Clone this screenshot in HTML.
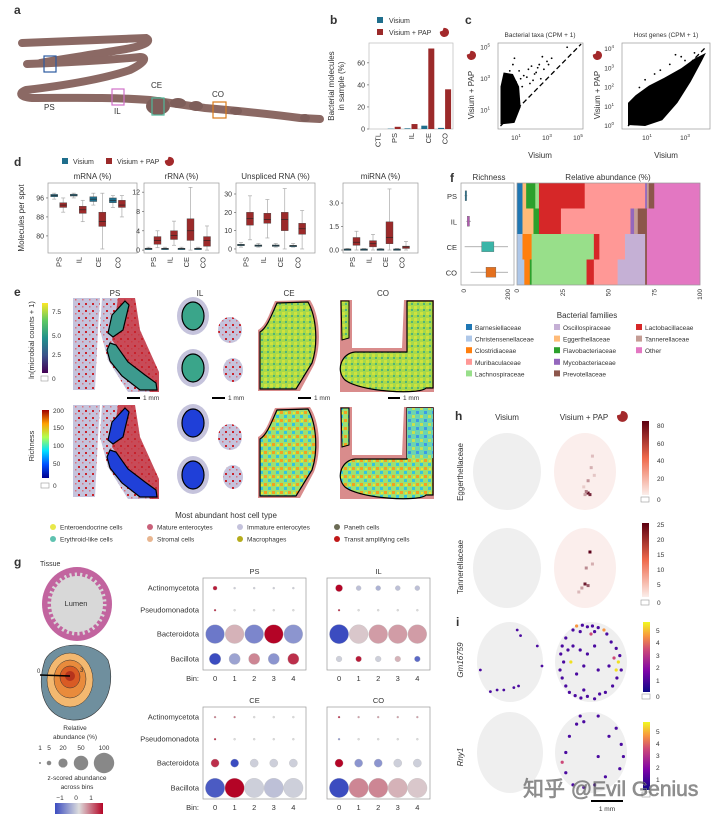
<!DOCTYPE html>
<html><head><meta charset="utf-8"><style>
html,body{margin:0;padding:0;background:#fff}
svg{display:block;font-family:"Liberation Sans","Noto Sans CJK SC",sans-serif}
text{fill:#333}
</style></head><body>
<svg id="fig" width="720" height="821" viewBox="0 0 720 821" xmlns="http://www.w3.org/2000/svg">
<defs>
<pattern id="spk" width="7" height="7" patternUnits="userSpaceOnUse"><rect x="1" y="2" width="2" height="2" fill="#c8232c"/><rect x="5" y="5" width="1.5" height="1.5" fill="#d9707e"/></pattern>
<pattern id="vir" width="6" height="6" patternUnits="userSpaceOnUse"><rect width="6" height="6" fill="#5cbf7a"/><rect x="0" y="0" width="3" height="3" fill="#8fd14f"/><rect x="3" y="3" width="2" height="2" fill="#2c9c8a"/></pattern>
<pattern id="vir2" width="6" height="6" patternUnits="userSpaceOnUse"><rect width="6" height="6" fill="#a8d94a"/><rect x="0" y="0" width="3" height="3" fill="#d0e23c"/><rect x="3" y="3" width="2" height="2" fill="#4fb47a"/></pattern>
<pattern id="jet" width="8" height="8" patternUnits="userSpaceOnUse"><rect width="8" height="8" fill="#9ee070"/><rect x="0" y="0" width="3" height="3" fill="#f4a020"/><rect x="4" y="4" width="3" height="3" fill="#33c4e0"/><rect x="5" y="1" width="2" height="2" fill="#e8e830"/></pattern>
<pattern id="jet2" width="8" height="8" patternUnits="userSpaceOnUse"><rect width="8" height="8" fill="#6cd4b0"/><rect x="0" y="0" width="3" height="3" fill="#3a9ae8"/><rect x="4" y="4" width="3" height="3" fill="#c8e050"/></pattern>
<linearGradient id="cbv" x1="0" y1="1" x2="0" y2="0"><stop offset="0" stop-color="#440154"/><stop offset=".25" stop-color="#3b528b"/><stop offset=".5" stop-color="#21918c"/><stop offset=".75" stop-color="#5ec962"/><stop offset="1" stop-color="#fde725"/></linearGradient>
<linearGradient id="cbj" x1="0" y1="1" x2="0" y2="0"><stop offset="0" stop-color="#00008f"/><stop offset=".2" stop-color="#0050ff"/><stop offset=".4" stop-color="#00e0ff"/><stop offset=".6" stop-color="#b0ff50"/><stop offset=".8" stop-color="#ffa000"/><stop offset="1" stop-color="#a00000"/></linearGradient>
<linearGradient id="cbr" x1="0" y1="1" x2="0" y2="0"><stop offset="0" stop-color="#fbeeea"/><stop offset=".5" stop-color="#ef6a4c"/><stop offset="1" stop-color="#5c0010"/></linearGradient>
<linearGradient id="cbp" x1="0" y1="1" x2="0" y2="0"><stop offset="0" stop-color="#0d0887"/><stop offset=".3" stop-color="#7e03a8"/><stop offset=".6" stop-color="#cc4778"/><stop offset=".8" stop-color="#f89540"/><stop offset="1" stop-color="#f0f921"/></linearGradient>
<linearGradient id="cbc" x1="0" y1="0" x2="1" y2="0"><stop offset="0" stop-color="#3b4cc0"/><stop offset=".5" stop-color="#dddddd"/><stop offset="1" stop-color="#b40426"/></linearGradient>
<symbol id="pap" viewBox="-6 -6 12 12"><path d="M-1,-5 A5,5 0 1 1 -5,-1 L-2,-2 Z" fill="#a3292b"/></symbol>
</defs>

<g>
<text x="14" y="14" font-weight="bold" font-size="12" fill="#000">a</text>
<g fill="none" stroke="#8b6964" stroke-width="8" stroke-linecap="round">
<path d="M22,43 C80,41 120,39 146,38 C152,41 146,46 120,50 C90,55 55,60 40,63"/>
<path d="M27,64 C60,63 110,60 140,57 C147,57 146,62 130,70 C100,80 60,86 26,90 C18,93 20,97 32,98 C70,98 110,97 150,100 L205,108 C240,111 270,114 300,118 L320,119"/>
</g>
<g fill="#7e5e5a">
<ellipse cx="158" cy="106" rx="12" ry="9"/><ellipse cx="178" cy="103" rx="8" ry="5"/><ellipse cx="196" cy="106" rx="7" ry="5"/><ellipse cx="236" cy="111" rx="6" ry="4"/><ellipse cx="305" cy="118" rx="5" ry="4"/>
</g>
<rect x="44" y="56" width="12" height="16" fill="none" stroke="#2c5aa0" stroke-width="1.2"/>
<rect x="112" y="89" width="12" height="16" fill="none" stroke="#d070c8" stroke-width="1.2"/>
<rect x="152" y="98" width="12" height="17" fill="none" stroke="#4fb89a" stroke-width="1.2"/>
<rect x="213" y="102" width="13" height="16" fill="none" stroke="#d97b1c" stroke-width="1.2"/>
<g font-size="8"><text x="44" y="110" fill="#5b6aa8">PS</text><text x="114" y="114" fill="#c75cc0">IL</text><text x="151" y="88" fill="#4fb89a">CE</text><text x="212" y="97" fill="#d9a43c">CO</text></g>
</g>

<g id="pb">
<text x="330" y="24" font-weight="bold" font-size="12" fill="#000">b</text>
<rect x="377" y="17" width="6" height="6" fill="#1f6e8c"/><text x="389" y="23" font-size="7">Visium</text>
<rect x="377" y="29" width="6" height="6" fill="#9b2a2a"/><text x="389" y="35" font-size="7" fill="#9b4a5a">Visium + PAP</text>
<use href="#pap" x="439" y="27" width="11" height="11"/>
<text transform="translate(334,86) rotate(-90)" text-anchor="middle" font-size="8">Bacterial molecules</text>
<text transform="translate(344,86) rotate(-90)" text-anchor="middle" font-size="8">in sample (%)</text>
</g>

<g id="pc">
<text x="465" y="24" font-weight="bold" font-size="12" fill="#000">c</text>
<text x="540" y="37" text-anchor="middle" font-size="6.5">Bacterial taxa (CPM + 1)</text>
<text x="666" y="37" text-anchor="middle" font-size="6.5">Host genes (CPM + 1)</text>
<text x="540" y="158" text-anchor="middle" font-size="8">Visium</text>
<text x="666" y="158" text-anchor="middle" font-size="8">Visium</text>
<text transform="translate(474,95) rotate(-90)" text-anchor="middle" font-size="8" fill="#9b4a5a">Visium + PAP</text>
<text transform="translate(600,95) rotate(-90)" text-anchor="middle" font-size="8" fill="#9b4a5a">Visium + PAP</text>
<use href="#pap" x="466" y="50" width="11" height="11"/>
<use href="#pap" x="592" y="50" width="11" height="11"/>
</g>

<g id="pd">
<text x="14" y="166" font-weight="bold" font-size="12" fill="#000">d</text>
<rect x="62" y="158" width="6" height="6" fill="#1f6e8c"/><text x="73" y="164" font-size="7">Visium</text>
<rect x="106" y="158" width="6" height="6" fill="#9b2a2a"/><text x="117" y="164" font-size="7" fill="#9b4a5a">Visium + PAP</text>
<use href="#pap" x="164" y="156" width="11" height="11"/>
<text transform="translate(24,218) rotate(-90)" text-anchor="middle" font-size="8">Molecules per spot</text>
</g>

<g id="pf">
<text x="450" y="182" font-weight="bold" font-size="12" fill="#000">f</text>
<text x="489" y="180" text-anchor="middle" font-size="8">Richness</text>
<text x="608" y="180" text-anchor="middle" font-size="8">Relative abundance (%)</text>
<text x="587" y="318" text-anchor="middle" font-size="8">Bacterial families</text>
</g>

<g id="pe">
<text x="14" y="296" font-weight="bold" font-size="12" fill="#000">e</text>
<g font-size="8" text-anchor="middle"><text x="115" y="296">PS</text><text x="200" y="296">IL</text><text x="289" y="296">CE</text><text x="383" y="296">CO</text></g>
<rect x="42" y="303" width="6" height="70" fill="url(#cbv)"/>
<rect x="41" y="376" width="7" height="5" fill="#fff" stroke="#999" stroke-width=".6"/>
<g font-size="6.5"><text x="52" y="314">7.5</text><text x="52" y="338">5.0</text><text x="52" y="357">2.5</text><text x="52" y="381">0</text></g>
<text transform="translate(34,340) rotate(-90)" text-anchor="middle" font-size="7.5">ln(microbial counts + 1)</text>
<rect x="42" y="410" width="7" height="68" fill="url(#cbj)"/>
<rect x="41" y="483" width="8" height="5" fill="#fff" stroke="#999" stroke-width=".6"/>
<g font-size="6.5"><text x="53" y="413">200</text><text x="53" y="430">150</text><text x="53" y="448">100</text><text x="53" y="466">50</text><text x="53" y="488">0</text></g>
<text transform="translate(34,446) rotate(-90)" text-anchor="middle" font-size="7.5">Richness</text>
<g id="erow1"></g>
<g id="erow2" transform="translate(0,107)"></g>
<g fill="#000"><rect x="127" y="397" width="13" height="2"/><rect x="212" y="397" width="13" height="2"/><rect x="298" y="397" width="13" height="2"/><rect x="388" y="397" width="12" height="2"/></g>
<g font-size="6.5"><text x="143" y="400">1 mm</text><text x="228" y="400">1 mm</text><text x="314" y="400">1 mm</text><text x="403" y="400">1 mm</text></g>
<text x="226" y="518" text-anchor="middle" font-size="8">Most abundant host cell type</text>
<g id="celllegend" font-size="6.5"></g>
</g>

<g id="pg">
<text x="14" y="566" font-weight="bold" font-size="12" fill="#000">g</text>
<text x="40" y="566" font-size="7">Tissue</text>
<ellipse cx="77" cy="604" rx="35" ry="37" fill="#c2649f"/>
<ellipse cx="77" cy="604" rx="26" ry="28" fill="#d8d8d8" stroke="#d8d8d8" stroke-width="7" stroke-dasharray="2 3"/>
<text x="76" y="606" text-anchor="middle" font-size="7.5">Lumen</text>
<path d="M45,660 C55,640 95,640 108,660 C118,690 100,722 72,720 C45,718 35,690 45,660 Z" fill="#6f8f9e" stroke="#333" stroke-width=".6"/>
<ellipse cx="70" cy="680" rx="23" ry="27" fill="#f3b870" stroke="#333" stroke-width=".5"/>
<ellipse cx="70" cy="679" rx="16" ry="19" fill="#e98b3c" stroke="#333" stroke-width=".5"/>
<ellipse cx="70" cy="677" rx="10" ry="11" fill="#d95b24" stroke="#333" stroke-width=".5"/>
<ellipse cx="70" cy="676" rx="5" ry="5" fill="#b5331c"/>
<line x1="40" y1="675" x2="70" y2="676" stroke="#000" stroke-width="1.5"/>
<text x="37" y="673" font-size="6">0</text><text x="80" y="672" font-size="6">3</text>
<text x="75" y="730" text-anchor="middle" font-size="6.5">Relative</text>
<text x="75" y="739" text-anchor="middle" font-size="6.5">abundance (%)</text>
<g id="sizelegend" font-size="6.5"></g>
<text x="77" y="780" text-anchor="middle" font-size="6.5">z-scored abundance</text>
<text x="77" y="789" text-anchor="middle" font-size="6.5">across bins</text>
<g font-size="6.5" text-anchor="middle"><text x="60" y="800">−1</text><text x="76" y="800">0</text><text x="91" y="800">1</text></g>
<rect x="55" y="803" width="48" height="11" fill="url(#cbc)"/>
<g id="dots"></g>
</g>

<g id="ph">
<text x="455" y="420" font-weight="bold" font-size="12" fill="#000">h</text>
<text x="507" y="420" text-anchor="middle" font-size="8">Visium</text>
<text x="584" y="420" text-anchor="middle" font-size="8" fill="#9b4a5a">Visium + PAP</text>
<use href="#pap" x="616" y="410" width="13" height="13"/>
<text transform="translate(463,472) rotate(-90)" text-anchor="middle" font-size="8">Eggerthellaceae</text>
<text transform="translate(463,567) rotate(-90)" text-anchor="middle" font-size="8">Tannerellaceae</text>
<rect x="642" y="421" width="7" height="74" fill="url(#cbr)"/>
<rect x="641" y="497" width="8" height="5" fill="#fff" stroke="#999" stroke-width=".6"/>
<g font-size="6.5"><text x="657" y="428">80</text><text x="657" y="446">60</text><text x="657" y="463">40</text><text x="657" y="481">20</text><text x="657" y="502">0</text></g>
<rect x="642" y="523" width="7" height="74" fill="url(#cbr)"/>
<rect x="641" y="600" width="8" height="5" fill="#fff" stroke="#999" stroke-width=".6"/>
<g font-size="6.5"><text x="657" y="527">25</text><text x="657" y="542">20</text><text x="657" y="557">15</text><text x="657" y="572">10</text><text x="657" y="587">5</text><text x="657" y="605">0</text></g>
<g id="hmaps"></g>
</g>

<g id="pi">
<text x="456" y="626" font-weight="bold" font-size="12" fill="#000">i</text>
<text transform="translate(463,660) rotate(-90)" text-anchor="middle" font-size="8" font-style="italic">Gm16759</text>
<text transform="translate(463,757) rotate(-90)" text-anchor="middle" font-size="8" font-style="italic">Rny1</text>
<rect x="643" y="622" width="7" height="70" fill="url(#cbp)"/>
<rect x="642" y="694" width="8" height="5" fill="#fff" stroke="#999" stroke-width=".6"/>
<g font-size="6.5"><text x="656" y="633">5</text><text x="656" y="645">4</text><text x="656" y="658">3</text><text x="656" y="670">2</text><text x="656" y="683">1</text><text x="656" y="699">0</text></g>
<rect x="643" y="722" width="7" height="68" fill="url(#cbp)"/>
<rect x="642" y="792" width="8" height="5" fill="#fff" stroke="#999" stroke-width=".6"/>
<g font-size="6.5"><text x="656" y="734">5</text><text x="656" y="746">4</text><text x="656" y="758">3</text><text x="656" y="770">2</text><text x="656" y="782">1</text></g>
<g id="imaps"></g>
<rect x="591" y="800" width="32" height="2" fill="#000"/>
<text x="607" y="811" text-anchor="middle" font-size="6.5">1 mm</text>
<text x="523" y="796" font-size="21" fill="#fff" fill-opacity=".55" stroke="#888" stroke-width=".6">知乎 @Evil Genius</text>
</g>
</svg>
<script>
const NS='http://www.w3.org/2000/svg';
function mk(tag,at,parent){const e=document.createElementNS(NS,tag);for(const k in at)e.setAttribute(k,at[k]);(parent||document.getElementById('fig')).appendChild(e);return e;}
function tx(x,y,s,at,parent){const e=mk('text',Object.assign({x:x,y:y},at||{}),parent);e.textContent=s;return e;}
const VIS='#1f6e8c',PAP='#9b2a2a';

const bCats=['CTL','PS','IL','CE','CO'];
const bVisium=[0,0.3,0.6,3,1];
const bPap=[0,2,4.5,73,36];
const bTicks=[0,20,40,60];
(function(){
 const g=document.getElementById('pb');const L=369,R=453,T=43,B=129;
 const y=v=>B-(v/78)*(B-T);const band=(R-L)/bCats.length;const x=i=>L+band*i+band/2;
 const fr=mk('rect',{x:L,y:T,width:R-L,height:B-T,fill:'none',stroke:'#bbb','stroke-width':.7},g);
 
 bTicks.forEach(t=>{mk('line',{x1:L-2,x2:L,y1:y(t),y2:y(t),stroke:'#555','stroke-width':.6},g);const e=tx(L-4,y(t)+2.5,t,{'font-size':7,'text-anchor':'end'},g);});
 bCats.forEach((c,i)=>{
  const r1=mk('rect',{x:x(i)-6.5,y:y(bVisium[i]),width:6,height:B-y(bVisium[i]),fill:VIS},g);
  
  const r2=mk('rect',{x:x(i)+0.5,y:y(bPap[i]),width:6,height:B-y(bPap[i]),fill:PAP},g);
  
  const t=tx(0,0,c,{'font-size':7.5,'text-anchor':'end',transform:`translate(${x(i)+3},${B+4}) rotate(-90)`},g);
  
 });
})();

const cTaxaPts=[[1.2,3.5],[1.5,3.2],[2,3.8],[2.3,3.4],[2.5,3.9],[2.8,3.6],[3,4.1],[2.6,3.0],[1.8,3.6],[3.3,4.3],[1,2.8],[1.4,2.5],[2.1,2.9],[4.3,5.0],[0.9,4.3],[2.7,4.4],[3.1,3.9],[1.7,3.1],[2.2,3.3],[0.6,3.5],[1.1,2.2],[1.3,3.0],[2.4,3.7],[1.9,2.7],[0.8,3.9]];
const cTaxaCloud=[[0,0.1],[0.9,0.2],[1.3,1.2],[1.2,2.5],[0.8,3.3],[0.2,3.4],[0,2.5]];
const cHostPts=[[2.5,3.7],[1.4,2.7],[0.9,2.4],[2.2,3.2],[3.5,3.8],[0.6,2.0],[1.7,2.9],[3.0,3.4],[2.8,3.6]];
const cHostCloud=[[0,0.05],[0.9,0],[1.8,0.3],[2.6,1.2],[3.3,2.3],[3.9,3.4],[4.1,3.8],[3.5,3.5],[2.8,3.0],[1.9,2.5],[1.1,2.1],[0.4,1.6],[0,1.2]];
(function(){
 const g=document.getElementById('pc');
 function panel(L,R,T,B,x,y,xt,yt,pts,cloud,diag,nm){
  const f=mk('rect',{x:L,y:T,width:R-L,height:B-T,fill:'none',stroke:'#999','stroke-width':.7},g);
  
  const cl=mk('polygon',{points:cloud.map(p=>x(p[0])+','+y(p[1])).join(' '),fill:'#000'},g);
  
  pts.forEach(p=>{const c=mk('circle',{cx:x(p[0]),cy:y(p[1]),r:.9,fill:'#000'},g);});
  const d=mk('line',{x1:x(diag[0]),y1:y(diag[0]),x2:x(diag[1]),y2:y(diag[1]),stroke:'#000','stroke-width':1.3,'stroke-dasharray':'5 3'},g);
  
  xt.forEach(t=>{const e=tx(x(t),B+11,'10',{'font-size':6.5,'text-anchor':'middle'},g);const s=mk('tspan',{dy:-3,'font-size':4.5},e);s.textContent=t;});
  yt.forEach(t=>{const e=tx(L-8,y(t)+2,'10',{'font-size':6.5,'text-anchor':'end'},g);const s=mk('tspan',{dy:-3,'font-size':4.5},e);s.textContent=t;});
 }
 panel(498,583,43,129,v=>500.5+v*15.5,v=>126-v*15.75,[1,3,5],[1,3,5],cTaxaPts,cTaxaCloud,[0,5.2],'taxa-scatter');
 panel(622,710,43,129,v=>628+v*19,v=>126-v*19.25,[1,3],[0,1,2,3,4],cHostPts,cHostCloud,[0,4.1],'host-scatter');
})();

const dCats=['PS','IL','CE','CO'];
const mrnaVis=[[95.5,96.5,97,97.5,98],[96,96.8,97.2,97.6,98],[93,94.5,95.5,96.5,98],[92,94,95,96,97]];
const mrnaPap=[[90,92,93,94,96],[86,89.5,91,92.5,95],[74.5,84,86,90,98],[88,92,93,95,97]];
const rrnaVis=[[0.1,0.2,0.3,0.4,0.6],[0.1,0.2,0.3,0.4,0.6],[0.1,0.2,0.3,0.4,0.6],[0.1,0.2,0.3,0.4,0.6]];
const rrnaPap=[[0.5,1.2,2,2.8,4],[1,2.2,3,4,6],[0,2,4,6.5,13],[0,0.8,2,2.8,5]];
const unspVis=[[1,1.8,2.2,2.6,3.5],[1,1.5,1.8,2.2,3],[1,1.5,1.8,2.2,3],[1,1.4,1.7,2,3]];
const unspPap=[[5,13,16.5,20,29],[6,14,16,19.5,27],[0,10,16,20,33],[0,8,11,14,21]];
const mirnaVis=[[0,0.03,0.05,0.07,0.1],[0,0.03,0.05,0.07,0.1],[0,0.03,0.05,0.07,0.1],[0,0.03,0.05,0.07,0.1]];
const mirnaPap=[[0,0.3,0.5,0.8,1.2],[0,0.2,0.4,0.6,1],[0,0.4,0.8,1.8,3.9],[0,0.1,0.2,0.25,0.55]];
const mrnaTicks=[80,88,96],rrnaTicks=[0,4,8,12],unspTicks=[0,10,20,30],mirnaTicks=[0,1.5,3.0];
(function(){
 const g=document.getElementById('pd');const T=183,B=253;
 function box(L,R,dom,title,ticks,vis,pap,nm,fmt){
  const y=v=>B-(v-dom[0])/(dom[1]-dom[0])*(B-T);const w=R-L;const x=i=>L+w*(0.12+i*0.22);
  const f=mk('rect',{x:L,y:T,width:w,height:B-T,fill:'none',stroke:'#999','stroke-width':.7},g);
  const tt=tx((L+R)/2,179,title,{'font-size':8,'text-anchor':'middle'},g);
  ticks.forEach(t=>{mk('line',{x1:L-2,x2:L,y1:y(t),y2:y(t),stroke:'#555','stroke-width':.6},g);const e=tx(L-4,y(t)+2.5,fmt?t.toFixed(1):t,{'font-size':7,'text-anchor':'end'},g);});
  dCats.forEach((c,i)=>{
   [[vis[i],VIS,-4.5],[pap[i],PAP,4.5]].forEach(([s,col,off])=>{
    const cx=x(i)+off;
    const wl=mk('line',{x1:cx,x2:cx,y1:y(s[0]),y2:y(s[4]),stroke:'#aaa','stroke-width':.7},g);
    mk('line',{x1:cx-2,x2:cx+2,y1:y(s[0]),y2:y(s[0]),stroke:'#aaa','stroke-width':.7},g);
    mk('line',{x1:cx-2,x2:cx+2,y1:y(s[4]),y2:y(s[4]),stroke:'#aaa','stroke-width':.7},g);
    const h=Math.max(1.5,y(s[1])-y(s[3]));
    const r=mk('rect',{x:cx-3.5,y:y(s[3]),width:7,height:h,fill:col,stroke:'#444','stroke-width':.4},g);
    
    mk('line',{x1:cx-3.5,x2:cx+3.5,y1:y(s[2]),y2:y(s[2]),stroke:'#222','stroke-width':.6},g);
   });
   const lb=tx(0,0,c,{'font-size':7.5,'text-anchor':'end',transform:`translate(${x(i)+3},${B+4}) rotate(-90)`},g);
  });
 }
 box(48,137,[72.8,102.3],'mRNA (%)',mrnaTicks,mrnaVis,mrnaPap,'mrna');
 box(144,219,[-0.6,13.9],'rRNA (%)',rrnaTicks,rrnaVis,rrnaPap,'rrna');
 box(236,315,[-2.2,36],'Unspliced RNA (%)',unspTicks,unspVis,unspPap,'unspliced');
 box(343,418,[-0.19,4.28],'miRNA (%)',mirnaTicks,mirnaVis,mirnaPap,'mirna',true);
})();

const fFamilies=['Barnesiellaceae','Christensenellaceae','Clostridiaceae','Muribaculaceae','Lachnospiraceae','Oscillospiraceae','Eggerthellaceae','Flavobacteriaceae','Mycobacteriaceae','Prevotellaceae','Lactobacillaceae','Tannerellaceae','Other'];
const fColors=['#1f77b4','#aec7e8','#ff7f0e','#ff9896','#98df8a','#c5b0d5','#ffbb78','#2ca02c','#9467bd','#8c564b','#d62728','#c49c94','#e377c2'];
const fRegions=['PS','IL','CE','CO'];
const fOrder=['Barnesiellaceae','Christensenellaceae','Clostridiaceae','Eggerthellaceae','Flavobacteriaceae','Lachnospiraceae','Lactobacillaceae','Muribaculaceae','Oscillospiraceae','Mycobacteriaceae','Tannerellaceae','Prevotellaceae','Other'];
const fPS=[3,0,0,2,5,2,25,33,0,1,1,3,25];
const fIL=[3,0,0,6,3,0,12,38,0,2,2,5,29];
const fCE=[0,3,5,0,0,34,3,14,11,0,0,1,29];
const fCO=[0,4,3,0,1,30,4,13,15,0,0,1,29];
const richStats=[[2,5,8,11,15],[10,15,20,25,32],[3,80,110,136,200],[30,100,120,145,200]];
const richColors=['#1f6e8c','#b05ab0','#3bb5a8','#e4701e'];
(function(){
 const g=document.getElementById('pf');const T=183,B=285,rh=(B-T)/4;
 const fr=mk('rect',{x:461,y:T,width:53,height:B-T,fill:'none',stroke:'#999','stroke-width':.7},g);
 const rx=v=>464+v*0.22;
 fRegions.forEach((r,i)=>{
  const cy=T+rh*i+rh/2;const s=richStats[i];
  const lb=tx(457,cy+3,r,{'font-size':7.5,'text-anchor':'end'},g);
  mk('line',{x1:rx(s[0]),x2:rx(s[4]),y1:cy,y2:cy,stroke:'#999','stroke-width':.7},g);
  const b=mk('rect',{x:rx(s[1]),y:cy-5,width:Math.max(1.5,rx(s[3])-rx(s[1])),height:10,fill:richColors[i],stroke:'#555','stroke-width':.3},g);
  
 });
 [[0,464],[200,508]].forEach(([t,px])=>{const e=tx(0,0,t,{'font-size':6.5,'text-anchor':'end',transform:`translate(${px+2},${B+4}) rotate(-90)`},g);});
 const L=517,R=700,ax=v=>L+v/100*(R-L);
 [fPS,fIL,fCE,fCO].forEach((vals,i)=>{
  let acc=0;
  vals.forEach((v,j)=>{if(!v)return;const fi=fFamilies.indexOf(fOrder[j]);
   const r=mk('rect',{x:ax(acc),y:T+rh*i,width:ax(acc+v)-ax(acc)+0.3,height:rh,fill:fColors[fi]},g);
   acc+=v;});
 });
 const af=mk('rect',{x:L,y:T,width:R-L,height:B-T,fill:'none',stroke:'#999','stroke-width':.7},g);
 [0,25,50,75,100].forEach(t=>{const e=tx(0,0,t,{'font-size':6.5,'text-anchor':'end',transform:`translate(${ax(t)+2},${B+4}) rotate(-90)`},g);});
 const cols=[466,554,636];const per=[5,5,3];let k=0;
 cols.forEach((cx,ci)=>{for(let r=0;r<per[ci];r++){const sw=mk('rect',{x:cx,y:324+r*11.6,width:6,height:6,fill:fColors[k]},g);
  const t=tx(cx+9,330+r*11.6,fFamilies[k],{'font-size':6.5},g);k++;}});
})();

(function(){
 function draw(gid,inner1,inner2,inner3){
  const g=document.getElementById(gid);
  const P=(d,f,n,extra)=>{const e=mk('path',Object.assign({d:d,fill:f},extra||{}),g);return e;};
  P('M73,298 L100,298 L98,330 L95,390 L73,390 Z','#c5c3dc','ps-left-tissue');
  P('M73,298 L100,298 L98,330 L95,390 L73,390 Z','url(#spk)','ps-left-speckle');
  P('M102,298 L135,298 L140,330 L159,372 L159,392 L128,392 L108,360 L100,330 Z','#c5c3dc','ps-right-tissue');
  P('M102,298 L135,298 L140,330 L159,372 L159,392 L128,392 L108,360 L100,330 Z','url(#spk)','ps-right-speckle');
  P('M118,298 L135,298 L140,330 L159,372 L159,392 L150,392 L130,365 L112,340 Z','#c8232c','ps-transit-cells',{opacity:.75});
  P('M125,301 L129,305 L123,330 L113,337 L108,333 L112,315 Z',inner1,'ps-lumen-1',{stroke:'#000','stroke-width':1.2});
  P('M110,343 L116,345 L128,362 L145,375 L156,383 L157,390 L140,390 L122,376 L110,361 L107,350 Z',inner1,'ps-lumen-2',{stroke:'#000','stroke-width':1.2});
  [[193,316,16,19],[193,368,16,19]].forEach((c,i)=>{const e=mk('ellipse',{cx:c[0],cy:c[1],rx:c[2],ry:c[3],fill:'#c5c3dc'},g);
   const e2=mk('ellipse',{cx:c[0],cy:c[1],rx:c[2]-5,ry:c[3]-5,fill:inner2,stroke:'#000','stroke-width':1.2},g);});
  [[230,330,12,13],[233,370,10,12]].forEach(c=>{const e=mk('ellipse',{cx:c[0],cy:c[1],rx:c[2],ry:c[3],fill:'#c5c3dc'},g);
   mk('ellipse',{cx:c[0],cy:c[1],rx:c[2],ry:c[3],fill:'url(#spk)'},g);});
  P('M258,330 C266,326 270,312 275,301 L310,300 C320,315 322,345 314,365 L300,391 L258,391 Z','#d98c8c','ce-border');
  P('M260,332 C267,328 272,314 277,303 L308,302 C317,318 318,345 312,363 L296,389 L260,389 Z',inner3,'ce-lumen',{stroke:'#000','stroke-width':1.2});
  P('M340,300 L352,300 L352,348 L402,348 L404,300 L434,300 L434,392 L340,392 Z','#d98c8c','co-border');
  P('M341,301 L349,301 L349,338 L342,340 Z',inner3,'co-lumen-small',{stroke:'#000','stroke-width':1});
  P('M407,301 L433,301 L433,388 L426,388 C420,395 360,392 345,380 C335,370 342,353 355,352 L407,352 Z',inner3,'co-lumen',{stroke:'#000','stroke-width':1.2});
 }
 draw('erow1','#3d9a8e','#3aa58a','url(#vir2)');
 draw('erow2','#2040d8','#1f3fd8','url(#jet)');
 const g2=document.getElementById('erow2');
 const ov=mk('rect',{x:407,y:301,width:26,height:50,fill:'url(#jet2)'},g2);
})();

const cellTypes=['Enteroendocrine cells','Erythroid-like cells','Mature enterocytes','Stromal cells','Immature enterocytes','Macrophages','Paneth cells','Transit amplifying cells'];
const cellColors=['#e8e84a','#5fc2b0','#c9617a','#e8b58f','#c4c2dc','#b5ac1c','#6b6b55','#c01818'];
(function(){const g=document.getElementById('celllegend');const cx=[53,150,240,337];
 cellTypes.forEach((c,i)=>{const col=Math.floor(i/2),row=i%2;
  const d=mk('circle',{cx:cx[col],cy:527+row*12,r:3,fill:cellColors[i]},g);
  const t=tx(cx[col]+7,529.5+row*12,c,{},g);});
})();

const gPhyla=['Actinomycetota','Pseudomonadota','Bacteroidota','Bacillota'];
const gBins=[0,1,2,3,4];
const gSizeTicks=[1,5,20,50,100];
const absPS=[[4,1,1,1,1],[1,1,1,1,1],[85,85,85,85,85],[32,30,30,30,30]];
const zPS=[[0.9,-0.1,-0.1,-0.1,-0.1],[0.9,0,0,0,0],[-0.7,0.2,-0.6,1.0,-0.5],[-1,-0.4,0.4,-0.5,0.8]];
const absIL=[[12,6,6,6,6],[1,1,1,1,1],[88,85,85,85,85],[8,8,8,8,8]];
const zIL=[[1,-0.2,-0.3,-0.2,-0.2],[0.9,0,0,0,0],[-1,0.1,0.3,0.3,0.3],[-0.1,0.9,-0.1,0.2,-0.8]];
const absCE=[[1,1,1,1,1],[1,1,1,1,1],[16,16,16,16,16],[90,90,90,90,90]];
const zCE=[[0.5,0.5,0,0,0],[0.9,0,0,0,0],[0.8,-1,-0.1,-0.1,-0.1],[-0.9,1.0,-0.1,-0.2,-0.1]];
const absCO=[[1,1,1,1,1],[1,1,1,1,1],[16,16,16,16,16],[90,90,90,90,90]];
const zCO=[[0.9,0.3,0.3,0.3,0.3],[-0.5,0,0,0,0],[1,-0.5,-0.5,-0.1,-0.1],[-1,0.4,0.4,0.2,0.1]];
function cw(z){z=Math.max(-1,Math.min(1,z));const a=[59,76,192],m=[221,221,221],b=[180,4,38];const t=Math.abs(z),e=z<0?a:b;
 return 'rgb('+m.map((v,i)=>Math.round(v+(e[i]-v)*t)).join(',')+')';}
(function(){
 const g=document.getElementById('dots');
 function plot(L,T,title,abs,z,nm,labels){
  const W=103,H=92;const fr=mk('rect',{x:L,y:T,width:W,height:H,fill:'none',stroke:'#999','stroke-width':.7},g);
  const tt=tx(L+W/2,T-4,title,{'font-size':7.5,'text-anchor':'middle'},g);
  const fy=[0.11,0.35,0.61,0.88];const x=i=>L+W*(0.117+i*0.19);const y=i=>T+H*fy[i];
  gPhyla.forEach((p,i)=>{
   if(labels){const l=tx(L-4,y(i)+2.5,p,{'font-size':7.5,'text-anchor':'end'},g);}
   gBins.forEach((b,j)=>{const c=mk('circle',{cx:x(j),cy:y(i),r:Math.sqrt(abs[i][j])*1.02,fill:cw(z[i][j]),stroke:'#bbb','stroke-width':.3},g);
    });
  });
  gBins.forEach((b,j)=>{const t=tx(x(j),T+H+11,b,{'font-size':7.5,'text-anchor':'middle'},g);});
  if(labels){const bl=tx(L-4,T+H+11,'Bin:',{'font-size':7.5,'text-anchor':'end'},g);}
 }
 plot(203,578,'PS',absPS,zPS,'ps-dots',true);
 plot(327,578,'IL',absIL,zIL,'il-dots',false);
 plot(203,707,'CE',absCE,zCE,'ce-dots',true);
 plot(327,707,'CO',absCO,zCO,'co-dots',false);
 const sl=document.getElementById('sizelegend');const sx=[40,49,63,81,104];
 gSizeTicks.forEach((s,i)=>{const t=tx(sx[i],750,s,{'text-anchor':'middle'},sl);
  const c=mk('circle',{cx:sx[i],cy:763,r:Math.sqrt(s)*1.02,fill:'#888'},sl);});
})();

const hEggPts=[[0.55,0.78,80],[0.58,0.8,70],[0.52,0.76,40],[0.55,0.62,30],[0.6,0.45,20],[0.62,0.3,15],[0.5,0.8,25],[0.48,0.7,10],[0.65,0.55,12]];
const hTanPts=[[0.58,0.3,25],[0.5,0.7,22],[0.55,0.72,15],[0.52,0.5,10],[0.45,0.75,8],[0.62,0.45,6],[0.4,0.8,5]];
(function(){
 const g=document.getElementById('hmaps');
 function red(v,m){const t=v/m;return `rgb(${Math.round(251-t*160)},${Math.round(230-t*230)},${Math.round(225-t*200)})`;}
 [[433,510,hEggPts,85,'egg'],[528,608,hTanPts,25,'tan']].forEach(([T,B,pts,mx,nm])=>{
  const cy=(T+B)/2,ry=(B-T)/2;
  const a=mk('ellipse',{cx:507,cy:cy,rx:34,ry:ry,fill:'#efefef'},g);
  const b=mk('ellipse',{cx:585,cy:cy,rx:31,ry:ry,fill:'#fbeeec'},g);
  pts.forEach(p=>{const c=mk('rect',{x:554+p[0]*62-1.5,y:T+p[1]*(B-T)-1.5,width:3,height:3,fill:red(p[2],mx)},g);});
 });
})();

const iGmVis=[[0.6,0.1],[0.65,0.17],[0.9,0.3],[0.97,0.55],[0.05,0.6],[0.3,0.85],[0.4,0.85],[0.55,0.82],[0.62,0.8],[0.2,0.87]];
const iGmPap=[[0.3,0.05,4],[0.38,0.04,1],[0.45,0.06,1],[0.52,0.05,1],[0.6,0.07,1],[0.68,0.1,4],[0.25,0.1,1],[0.35,0.12,1],[0.55,0.12,1],[0.72,0.15,1],[0.15,0.2,1],[0.1,0.3,1],[0.08,0.4,1],[0.12,0.5,1],[0.07,0.6,1],[0.1,0.7,1],[0.15,0.8,1],[0.2,0.88,1],[0.18,0.35,1],[0.22,0.5,5],[0.28,0.92,1],[0.36,0.95,1],[0.45,0.93,1],[0.55,0.96,1],[0.62,0.9,1],[0.7,0.88,1],[0.4,0.85,1],[0.78,0.25,1],[0.85,0.33,1],[0.9,0.42,2],[0.88,0.5,5],[0.92,0.6,1],[0.86,0.7,1],[0.8,0.8,1],[0.75,0.55,1],[0.82,0.45,3],[0.85,0.6,5],[0.35,0.35,1],[0.45,0.4,1],[0.4,0.55,1],[0.55,0.3,1],[0.6,0.6,1],[0.3,0.65,1],[0.25,0.3,2],[0.5,0.15,3]];
const iRnyPap=[[0.35,0.05,1],[0.4,0.12,1],[0.6,0.05,1],[0.85,0.2,1],[0.92,0.4,1],[0.95,0.55,1],[0.9,0.7,1],[0.2,0.3,1],[0.15,0.5,1],[0.1,0.62,3],[0.15,0.75,1],[0.25,0.9,1],[0.4,0.93,1],[0.55,0.9,1],[0.7,0.8,1],[0.6,0.55,1],[0.3,0.15,1],[0.75,0.3,1]];
(function(){
 const g=document.getElementById('imaps');
 function pl(v){return v>=4.5?'#f0e020':v>=3.5?'#f89540':v>=2.5?'#cc4778':'#4b0aa0';}
 [[622,702,iGmVis,iGmPap,'gm16759'],[712,793,[],iRnyPap,'rny1']].forEach(([T,B,vis,pap,nm])=>{
  const cy=(T+B)/2,ry=(B-T)/2;
  const a=mk('ellipse',{cx:510,cy:cy,rx:33,ry:ry,fill:'#efefef'},g);
  const b=mk('ellipse',{cx:591,cy:cy,rx:36,ry:ry,fill:'#efefef'},g);
  vis.forEach(p=>{const c=mk('circle',{cx:477+p[0]*67,cy:T+p[1]*(B-T),r:1.4,fill:'#4b0aa0'},g);});
  pap.forEach(p=>{const c=mk('circle',{cx:555+p[0]*72,cy:T+p[1]*(B-T),r:1.6,fill:pl(p[2])},g);});
 });
})();
</script>
</body></html>
